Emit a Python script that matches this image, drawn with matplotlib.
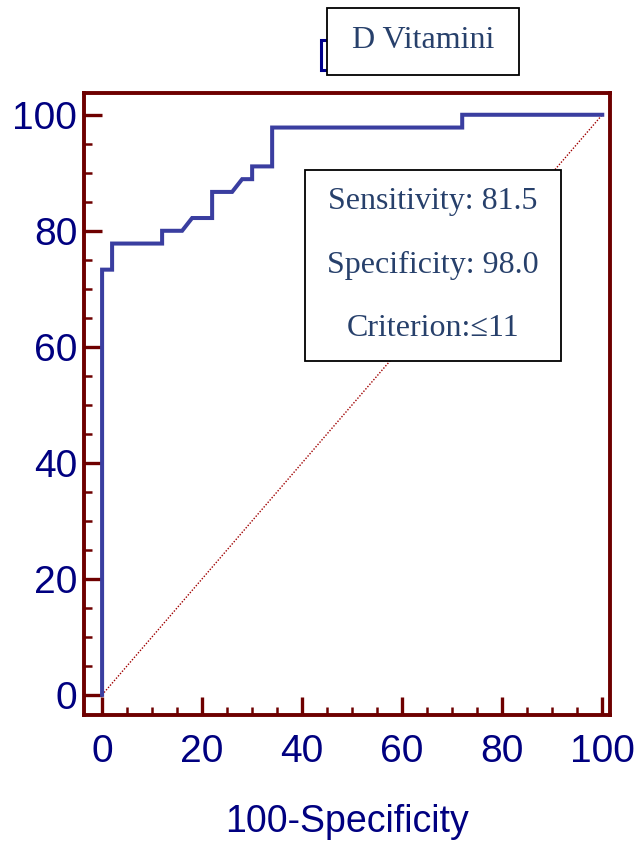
"""ROC curve for D vitamin criterion."""
import matplotlib
matplotlib.use("Agg")
import matplotlib.pyplot as plt
from matplotlib.patches import Rectangle
from matplotlib.ticker import MultipleLocator

# ROC step points (100-Specificity, Sensitivity)
fpr = [0, 0, 2, 2, 12, 12, 16, 18, 22, 22, 26, 28, 30, 30, 34, 34, 72, 72, 100]
tpr = [0, 73.3, 73.3, 77.8, 77.8, 80, 80, 82.2, 82.2, 86.7, 86.7, 88.9, 88.9,
       91.1, 91.1, 97.8, 97.8, 100, 100]
ref_line = [0, 100]
stats = ["Sensitivity: 81.5", "Specificity: 98.0", "Criterion:\u226411"]
title = "D Vitamini"

maroon = "#6e0000"
navy = "#000080"
curve_blue = "#3a3ea0"
box_text = "#27406b"

fig = plt.figure(figsize=(6.37, 8.43), dpi=100)
ax = fig.add_axes([0.132, 0.152, 0.826, 0.738])

ax.plot(ref_line, ref_line, color="#a00000", lw=1.0, ls=(0, (1, 1.2)), zorder=1)
ax.plot(fpr, tpr, color=curve_blue, lw=2.9, zorder=2, solid_joinstyle="miter")

ax.set_xlim(-3.6, 101.6)
ax.set_ylim(-3.45, 103.8)
ax.xaxis.set_major_locator(MultipleLocator(20))
ax.xaxis.set_minor_locator(MultipleLocator(5))
ax.yaxis.set_major_locator(MultipleLocator(20))
ax.yaxis.set_minor_locator(MultipleLocator(5))

for s in ax.spines.values():
    s.set_color(maroon)
    s.set_linewidth(2.8)

ax.tick_params(which="both", direction="in", color=maroon, labelcolor=navy,
               labelsize=28, top=False, right=False)
ax.tick_params(which="major", length=13, width=2.4)
ax.tick_params(which="minor", length=6, width=1.8)
ax.tick_params(axis="x", which="major", pad=14)
ax.tick_params(axis="y", which="major", pad=5)
for lab in ax.get_xticklabels() + ax.get_yticklabels():
    lab.set_fontfamily("Liberation Sans")

ax.set_xlabel("100-Specificity", fontsize=27, color=navy,
              fontfamily="Liberation Sans", labelpad=24)

# info box
fig.add_artist(Rectangle((0.4788, 0.5718), 0.4019, 0.2266, transform=fig.transFigure,
                         facecolor="white", edgecolor="black", lw=1.3, zorder=5))
for i, txt in enumerate(stats):
    fig.text(0.680, 1 - (202 + 63.5 * i) / 843, txt, ha="center", va="center",
             fontsize=23, color=box_text, fontfamily="Liberation Serif", zorder=6)

# title box with partly hidden legend marker
fig.add_artist(Rectangle((0.5035, 0.917), 0.02, 0.035, transform=fig.transFigure,
                         facecolor="white", edgecolor="#00008b", lw=2.2, zorder=4))
fig.add_artist(Rectangle((0.5133, 0.911), 0.3014, 0.0795, transform=fig.transFigure,
                         facecolor="white", edgecolor="black", lw=1.3, zorder=5))
fig.text(0.664, 1 - 40 / 843, title, ha="center", va="center", fontsize=23,
         color=box_text, fontfamily="Liberation Serif", zorder=6)

fig.savefig("out.png", dpi=100)
